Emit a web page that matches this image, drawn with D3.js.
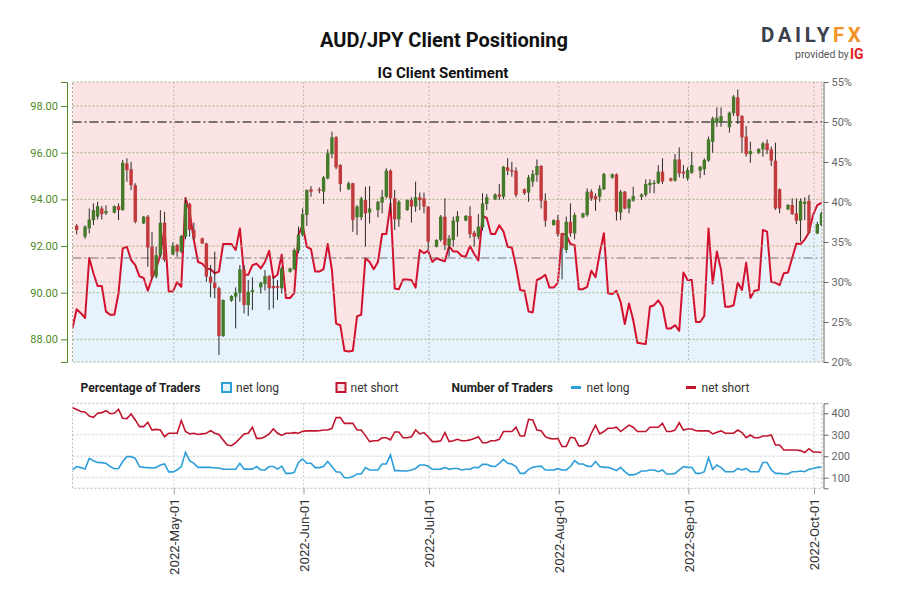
<!DOCTYPE html>
<html>
<head>
<meta charset="utf-8">
<script src="https://cdn.jsdelivr.net/npm/d3@7"></script>
<style>
body { margin: 0; background: #fff; }
svg text { font-family: Roboto, "Liberation Sans", sans-serif; }
</style>
</head>
<body>
<svg id="chart" width="900" height="600"></svg>
<script>
// Daily candles: date, open, high, low, close
const candles = [
	["2022-04-08", 92.87, 92.94, 92.50, 92.69], ["2022-04-10", 92.40, 92.89, 92.31, 92.83],
	["2022-04-11", 92.76, 93.61, 92.54, 93.14], ["2022-04-12", 93.11, 93.83, 92.90, 93.54],
	["2022-04-13", 93.26, 93.89, 93.14, 93.71], ["2022-04-14", 93.61, 93.71, 93.14, 93.37],
	["2022-04-15", 93.40, 93.74, 93.33, 93.50], ["2022-04-17", 93.43, 93.74, 93.40, 93.71],
	["2022-04-18", 93.71, 93.83, 93.11, 93.54], ["2022-04-19", 93.54, 95.69, 93.51, 95.57],
	["2022-04-20", 95.54, 95.76, 94.76, 95.26], ["2022-04-21", 95.29, 95.61, 94.40, 94.61],
	["2022-04-22", 94.61, 94.69, 92.97, 93.04], ["2022-04-24", 92.97, 93.29, 92.94, 93.26],
	["2022-04-25", 93.26, 93.33, 91.11, 91.94], ["2022-04-26", 91.97, 92.61, 90.61, 90.69],
	["2022-04-27", 90.69, 91.97, 90.61, 91.61], ["2022-04-28", 91.61, 93.54, 91.54, 93.00],
	["2022-04-29", 93.00, 93.47, 91.33, 91.40], ["2022-05-01", 91.64, 92.16, 91.61, 92.01],
	["2022-05-02", 92.04, 92.09, 91.54, 91.76], ["2022-05-03", 91.76, 92.47, 91.69, 92.43],
	["2022-05-04", 92.40, 94.04, 92.29, 93.83], ["2022-05-05", 93.80, 93.86, 92.40, 92.69],
	["2022-05-06", 92.69, 93.00, 92.26, 92.33], ["2022-05-08", 92.33, 92.36, 92.09, 92.11],
	["2022-05-09", 92.11, 92.14, 90.47, 90.69], ["2022-05-10", 90.69, 91.19, 89.80, 90.43],
	["2022-05-11", 90.43, 91.76, 89.76, 90.19], ["2022-05-12", 90.19, 90.26, 87.33, 88.14],
	["2022-05-13", 88.14, 89.71, 88.11, 89.69], ["2022-05-15", 89.66, 89.89, 89.61, 89.86],
	["2022-05-16", 89.83, 90.23, 88.47, 90.00], ["2022-05-17", 90.00, 91.19, 89.61, 91.00],
	["2022-05-18", 91.00, 91.19, 89.11, 89.47], ["2022-05-19", 89.47, 90.54, 89.01, 90.04],
	["2022-05-20", 90.03, 90.66, 89.26, 90.11], ["2022-05-22", 90.23, 90.47, 89.97, 90.43],
	["2022-05-23", 90.37, 90.97, 90.09, 90.71], ["2022-05-24", 90.71, 90.76, 89.26, 90.19],
	["2022-05-25", 90.29, 90.69, 89.33, 90.19], ["2022-05-26", 90.29, 90.54, 89.69, 90.21],
	["2022-05-27", 90.19, 91.11, 89.97, 91.04], ["2022-05-29", 90.90, 91.07, 90.86, 91.04],
	["2022-05-30", 91.00, 91.90, 90.97, 91.83], ["2022-05-31", 91.80, 92.83, 91.69, 92.47],
	["2022-06-01", 92.47, 93.61, 92.40, 93.37], ["2022-06-02", 93.33, 94.43, 92.86, 94.40],
	["2022-06-03", 94.43, 94.57, 94.11, 94.33], ["2022-06-05", 94.43, 94.51, 94.26, 94.37],
	["2022-06-06", 94.33, 95.00, 93.80, 94.94], ["2022-06-07", 94.90, 96.14, 94.86, 95.97],
	["2022-06-08", 95.94, 96.90, 95.76, 96.66], ["2022-06-09", 96.66, 96.71, 95.29, 95.37],
	["2022-06-10", 95.47, 95.51, 94.33, 94.66], ["2022-06-12", 94.43, 94.76, 94.40, 94.69],
	["2022-06-13", 94.69, 94.71, 92.61, 93.11], ["2022-06-14", 93.23, 93.76, 92.47, 93.69],
	["2022-06-15", 93.23, 94.11, 93.11, 94.04], ["2022-06-16", 93.97, 94.54, 91.97, 93.40],
	["2022-06-17", 93.43, 94.57, 92.97, 93.61], ["2022-06-19", 93.54, 93.94, 93.23, 93.90],
	["2022-06-20", 93.86, 94.40, 93.40, 94.11], ["2022-06-21", 94.11, 95.33, 94.04, 95.23],
	["2022-06-22", 95.23, 95.29, 93.40, 94.04], ["2022-06-23", 94.04, 94.40, 92.69, 93.14],
	["2022-06-24", 93.14, 93.97, 92.83, 93.90], ["2022-06-26", 93.54, 94.00, 93.51, 93.97],
	["2022-06-27", 93.97, 94.09, 93.00, 93.69], ["2022-06-28", 93.69, 94.76, 93.47, 94.09],
	["2022-06-29", 94.09, 94.29, 93.54, 93.97], ["2022-06-30", 94.04, 94.29, 93.40, 93.69],
	["2022-07-01", 93.69, 93.71, 91.83, 92.19], ["2022-07-03", 91.97, 92.29, 91.94, 92.26],
	["2022-07-04", 92.26, 93.33, 92.19, 93.26], ["2022-07-05", 93.26, 94.04, 91.83, 92.04],
	["2022-07-06", 92.00, 92.47, 91.54, 92.33], ["2022-07-07", 92.26, 93.26, 91.97, 93.09],
	["2022-07-08", 93.04, 93.50, 92.40, 93.29], ["2022-07-10", 93.09, 93.33, 93.06, 93.29],
	["2022-07-11", 93.29, 93.71, 92.33, 92.51], ["2022-07-12", 92.57, 92.66, 91.97, 92.40],
	["2022-07-13", 92.40, 93.37, 92.29, 92.83], ["2022-07-14", 92.80, 94.26, 92.66, 93.83],
	["2022-07-15", 93.80, 94.23, 93.54, 94.09], ["2022-07-17", 94.00, 94.26, 93.97, 94.21],
	["2022-07-18", 94.21, 94.66, 93.97, 94.11], ["2022-07-19", 94.11, 95.43, 94.00, 95.40],
	["2022-07-20", 95.37, 95.76, 95.04, 95.23], ["2022-07-21", 95.26, 95.61, 94.97, 95.19],
	["2022-07-22", 95.23, 95.37, 94.09, 94.19], ["2022-07-24", 94.43, 94.47, 94.19, 94.26],
	["2022-07-25", 94.29, 95.04, 93.90, 94.94], ["2022-07-26", 94.76, 95.26, 94.54, 95.09],
	["2022-07-27", 95.04, 95.71, 94.76, 95.43], ["2022-07-28", 95.43, 95.47, 93.61, 93.94],
	["2022-07-29", 93.94, 94.26, 92.83, 93.09], ["2022-07-31", 92.90, 93.14, 92.87, 93.11],
	["2022-08-01", 93.11, 93.33, 92.40, 92.51], ["2022-08-02", 92.54, 92.57, 90.57, 91.90],
	["2022-08-03", 91.83, 93.26, 91.71, 93.04], ["2022-08-04", 93.04, 93.83, 92.40, 92.54],
	["2022-08-05", 92.54, 93.43, 92.29, 93.33], ["2022-08-07", 93.23, 93.43, 93.19, 93.40],
	["2022-08-08", 93.33, 94.47, 93.26, 94.33], ["2022-08-09", 94.33, 94.43, 93.94, 94.04],
	["2022-08-10", 94.14, 94.26, 93.51, 94.00], ["2022-08-11", 94.11, 94.61, 93.90, 94.47],
	["2022-08-12", 94.43, 95.14, 94.40, 95.09], ["2022-08-14", 94.93, 95.11, 94.89, 95.07],
	["2022-08-15", 95.07, 95.11, 93.09, 93.47], ["2022-08-16", 93.43, 94.40, 93.11, 94.33],
	["2022-08-17", 94.33, 94.36, 93.57, 93.61], ["2022-08-18", 93.61, 94.04, 93.40, 94.00],
	["2022-08-19", 93.94, 94.54, 93.90, 94.14], ["2022-08-21", 94.11, 94.26, 93.97, 94.21],
	["2022-08-22", 94.19, 94.86, 94.11, 94.66], ["2022-08-23", 94.61, 94.86, 94.26, 94.71],
	["2022-08-24", 94.66, 94.83, 94.26, 94.71], ["2022-08-25", 94.69, 95.47, 94.66, 95.19],
	["2022-08-26", 95.19, 95.76, 94.66, 94.76], ["2022-08-28", 94.90, 94.94, 94.76, 94.80],
	["2022-08-29", 94.80, 95.94, 94.76, 95.71], ["2022-08-30", 95.71, 96.23, 94.94, 95.11],
	["2022-08-31", 95.19, 95.47, 94.90, 95.11], ["2022-09-01", 94.90, 95.37, 94.80, 95.26],
	["2022-09-02", 95.14, 96.04, 95.09, 95.47], ["2022-09-04", 95.23, 95.43, 94.90, 95.40],
	["2022-09-05", 95.29, 95.76, 95.04, 95.69], ["2022-09-06", 95.66, 96.69, 95.61, 96.57],
	["2022-09-07", 96.47, 97.54, 96.00, 97.47], ["2022-09-08", 97.29, 97.94, 97.11, 97.50],
	["2022-09-09", 97.29, 97.94, 97.11, 97.57], ["2022-09-11", 97.09, 97.76, 96.86, 97.71],
	["2022-09-12", 97.69, 98.47, 97.57, 98.40], ["2022-09-13", 98.37, 98.71, 97.23, 97.57],
	["2022-09-14", 97.57, 97.61, 96.00, 96.66], ["2022-09-15", 96.69, 97.14, 95.83, 95.94],
	["2022-09-16", 95.94, 96.47, 95.57, 96.07], ["2022-09-18", 96.00, 96.19, 95.94, 96.16],
	["2022-09-19", 96.14, 96.47, 95.83, 96.40], ["2022-09-20", 96.40, 96.57, 95.94, 96.11],
	["2022-09-21", 96.14, 96.26, 95.43, 95.66], ["2022-09-22", 95.66, 96.43, 93.55, 93.61],
	["2022-09-23", 94.43, 94.47, 93.40, 93.61], ["2022-09-25", 93.57, 93.80, 93.54, 93.76],
	["2022-09-26", 93.76, 94.04, 93.33, 93.37], ["2022-09-27", 93.40, 94.04, 92.94, 93.09],
	["2022-09-28", 93.09, 94.04, 92.19, 93.94], ["2022-09-29", 93.80, 94.09, 93.11, 93.90],
	["2022-09-30", 93.94, 94.19, 92.54, 92.57], ["2022-10-02", 92.54, 93.04, 92.51, 92.94],
	["2022-10-03", 92.90, 93.47, 92.86, 93.40]
];

// Daily series, one value per calendar day from seriesStart
const seriesStart = "2022-04-07";
// % of traders net long
const longPct = [
	24.2, 26.6, 26.1, 25.5, 33.0, 31.1, 29.5, 29.5, 26.3, 25.9, 25.9, 28.6, 34.2, 34.4, 32.75, 32.1, 30.7, 30.5, 28.9, 30.5, 31.7, 33.4, 36.7, 28.8,
	28.8, 30.0, 29.4, 40.5, 38.8, 35.25, 32.5, 32.3, 31.7, 31.6, 31.1, 31.3, 34.75, 34.75, 34.75, 34.0, 36.7, 30.9, 30.9, 32.1, 32.3, 31.7, 32.5, 33.9, 30.5, 30.9, 33.4, 28.0, 28.0, 28.6, 35.9,
	37.1, 34.4, 34.1, 31.3, 31.3, 31.6, 34.75, 31.5, 24.8, 24.6, 21.4, 21.3, 21.4, 25.7, 25.9, 33.0, 32.5, 31.6, 32.5, 36.0, 36.0, 39.8, 29.2, 29.1, 30.3, 30.3, 30.25, 29.3, 34.0, 33.6,
	33.9, 32.5, 33.0, 32.75, 32.6, 34.5, 33.8, 33.8, 33.25, 33.2, 34.5, 33.5, 32.7, 38.25, 38.0, 36.0, 36.0, 37.1, 36.3, 34.4, 34.3, 31.9, 29.0, 28.9, 26.3, 26.2, 30.25, 30.5, 30.9, 29.3, 29.3,
	29.9, 36.0, 35.9, 34.75, 34.6, 29.1, 29.1, 29.4, 31.4, 30.6, 33.6, 36.1, 28.6, 28.5, 28.9, 27.5, 24.75, 27.3, 25.25, 22.4, 22.3, 22.25, 26.9, 27.1, 27.7, 26.9, 24.2, 24.2, 24.6, 23.9, 31.2,
	30.25, 30.25, 25.0, 25.0, 25.75, 36.7, 29.8, 33.8, 31.5, 26.9, 26.9, 27.1, 29.9, 29.0, 32.4, 28.0, 28.9, 29.0, 36.5, 36.3, 30.0, 29.9, 29.6, 31.1, 31.2, 33.0, 34.8, 34.75, 35.3, 36.2,
	38.4, 39.6, 39.9
];
// Number of traders net short
const shortCount = [
	426, 418, 408, 406, 387, 381, 400, 403, 412, 398, 400, 418, 377, 375, 397, 369, 338, 338, 358, 322, 325, 322, 291, 307,
	307, 307, 366, 315, 304, 307, 301, 304, 307, 319, 307, 301, 276, 252, 249, 263, 283, 304, 307, 335, 283, 283, 291, 304, 327, 307, 297, 307, 307, 310, 307,
	316, 318, 318, 318, 319, 322, 322, 330, 380, 380, 353, 353, 353, 322, 322, 296, 268, 272, 272, 286, 286, 276, 313, 313, 286, 286, 291, 322, 304, 310,
	291, 268, 268, 272, 310, 268, 272, 279, 272, 272, 276, 283, 291, 263, 263, 272, 272, 279, 315, 315, 315, 335, 294, 294, 372, 369, 322, 319, 291, 283, 280,
	283, 245, 245, 288, 285, 248, 248, 260, 307, 344, 304, 315, 330, 330, 335, 315, 330, 345, 335, 315, 315, 315, 335, 335, 335, 353, 315, 315, 322, 356, 322,
	327, 327, 319, 318, 318, 318, 304, 312, 318, 307, 307, 307, 322, 310, 286, 299, 286, 286, 294, 294, 299, 252, 252, 229, 229, 229, 229, 226, 217, 235,
	220, 220, 217
];
// Number of traders net long
const longCount = [
	136, 152, 147, 140, 190, 179, 171, 170, 167, 152, 142, 143, 175, 198, 198, 190, 152, 148, 147, 145, 148, 159, 164, 127,
	127, 136, 152, 218, 179, 167, 148, 148, 148, 148, 145, 145, 139, 139, 139, 140, 167, 140, 140, 140, 152, 136, 136, 152, 152, 140, 154, 120, 120, 125, 171,
	187, 167, 167, 147, 147, 152, 175, 152, 128, 125, 100, 100, 105, 117, 117, 147, 136, 136, 136, 164, 164, 206, 133, 133, 131, 131, 136, 143, 159, 159,
	154, 139, 139, 140, 148, 139, 143, 143, 136, 139, 139, 148, 147, 162, 162, 154, 152, 167, 185, 167, 164, 152, 120, 120, 139, 148, 152, 154, 136, 136, 136,
	142, 136, 136, 152, 179, 164, 164, 154, 152, 175, 152, 148, 148, 142, 133, 148, 128, 113, 113, 120, 131, 131, 136, 136, 128, 136, 117, 117, 120, 136, 152,
	148, 148, 120, 120, 128, 193, 139, 159, 147, 128, 128, 128, 143, 136, 143, 128, 128, 128, 171, 171, 136, 120, 120, 117, 117, 128, 128, 131, 128, 139,
	143, 148, 148
];

const priceTicks = [88, 90, 92, 94, 96, 98];
const pctTicks = [20, 25, 30, 35, 40, 45, 50, 55];
const countTicks = [100, 200, 300, 400];
const monthTicks = ["2022-05-01", "2022-06-01", "2022-07-01", "2022-08-01", "2022-09-01", "2022-10-01"];
const refLines = [50, 33];

const parse = d3.timeParse("%Y-%m-%d");
// candles sit at the session open, a few hours before the calendar day
const at = d => d3.timeHour.offset(d, -5);

const svg = d3.select("#chart");
const left = 72.5, right = 822;
const top1 = 82, bot1 = 362, top2 = 403.3, bot2 = 488.3;

const start = parse(seriesStart);
const days = longPct.map((d, i) => at(d3.timeDay.offset(start, i)));

const x = d3.scaleTime()
	.domain([at(start), d3.timeHour.offset(at(parse("2022-10-03")), 3)])
	.range([left, right]);
const yPrice = d3.scaleLinear().domain([87.03, 99.03]).range([bot1, top1]);
const yPct = d3.scaleLinear().domain([20, 55]).range([bot1, top1]);
const yNum = d3.scaleLinear().domain([50.6, 446.5]).range([bot2, top2]);

const defs = svg.append("defs");
defs.append("clipPath").attr("id", "clip1").append("rect")
	.attr("x", left).attr("y", top1).attr("width", right - left).attr("height", bot1 - top1);
defs.append("clipPath").attr("id", "clip2").append("rect")
	.attr("x", left).attr("y", top2).attr("width", right - left).attr("height", bot2 - top2);

// Titles
svg.append("text").attr("x", 444).attr("y", 47).attr("text-anchor", "middle")
	.attr("font-size", 20).attr("font-weight", "bold").attr("fill", "#111")
	.text("AUD/JPY Client Positioning");
svg.append("text").attr("x", 443).attr("y", 78).attr("text-anchor", "middle")
	.attr("font-size", 15).attr("font-weight", "bold").attr("fill", "#111")
	.text("IG Client Sentiment");

// Logo
let logo = svg.append("text").attr("x", 761).attr("y", 42)
	.attr("font-size", 20.5).attr("font-weight", "bold").attr("letter-spacing", 3.6);
logo.append("tspan").attr("fill", "#3b404c").text("DAILY");
logo.append("tspan").attr("fill", "#f39325").text("FX");
svg.append("text").attr("x", 795).attr("y", 58).attr("font-size", 10.5)
	.attr("fill", "#555").text("provided by");
svg.append("text").attr("x", 850).attr("y", 59).attr("font-size", 14)
	.attr("font-weight", "bold").attr("fill", "#e2231a").text("IG");

// Main panel background
const g1 = svg.append("g").attr("clip-path", "url(#clip1)");
g1.append("rect").attr("x", left).attr("y", top1).attr("width", right - left)
	.attr("height", bot1 - top1).attr("fill", "#fde4e4");
g1.append("path").datum(longPct)
	.attr("fill", "#e6f3fc")
	.attr("d", d3.area().x((d, i) => x(days[i])).y0(bot1).y1(d => yPct(d)));

// Grid
const grid = svg.append("g");
grid.selectAll(".hp").data(priceTicks).join("line")
	.attr("x1", left).attr("x2", right)
	.attr("y1", d => yPrice(d)).attr("y2", d => yPrice(d))
	.attr("stroke", "#a3b57f").attr("stroke-dasharray", "2,2");
grid.append("line").attr("x1", left).attr("x2", right)
	.attr("y1", yPct(30)).attr("y2", yPct(30))
	.attr("stroke", "#b8b0b0").attr("stroke-dasharray", "2,2");
grid.selectAll(".vm").data(monthTicks).join("line")
	.attr("x1", d => x(parse(d))).attr("x2", d => x(parse(d)))
	.attr("y1", top1).attr("y2", bot1)
	.attr("stroke", "#bbb").attr("stroke-dasharray", "2,2");
grid.selectAll(".vb").data(monthTicks).join("line")
	.attr("x1", d => x(parse(d))).attr("x2", d => x(parse(d)))
	.attr("y1", top2).attr("y2", bot2)
	.attr("stroke", "#ccc").attr("stroke-dasharray", "2,2");
grid.selectAll(".hb").data(countTicks).join("line")
	.attr("x1", left).attr("x2", right)
	.attr("y1", d => yNum(d)).attr("y2", d => yNum(d))
	.attr("stroke", "#ccc").attr("stroke-dasharray", "2,2");
// panel borders
[[top1, bot1, "#a8a890"], [top2, bot2, "#bbb"]].forEach(([t, b, c]) => {
	svg.append("rect").attr("x", left).attr("y", t).attr("width", right - left)
		.attr("height", b - t).attr("fill", "none").attr("stroke", c)
		.attr("stroke-dasharray", "2,2");
});

// Reference lines
svg.selectAll(".ref").data(refLines).join("line")
	.attr("x1", left).attr("x2", right)
	.attr("y1", d => yPct(d)).attr("y2", d => yPct(d))
	.attr("stroke", "#7a7070").attr("stroke-width", (d, i) => i ? 1.2 : 1.8)
	.attr("stroke-dasharray", "9,3,2,3");

// Sentiment line
g1.append("path").datum(longPct)
	.attr("fill", "none").attr("stroke", "#d3112e").attr("stroke-width", 2)
	.attr("stroke-linejoin", "round")
	.attr("d", d3.line().x((d, i) => x(days[i])).y(d => yPct(d)));

// Candles
const cg = svg.append("g").attr("clip-path", "url(#clip1)")
	.selectAll("g").data(candles).join("g")
	.attr("transform", d => `translate(${x(at(parse(d[0])))},0)`);
cg.append("line")
	.attr("y1", d => yPrice(d[2])).attr("y2", d => yPrice(d[3]))
	.attr("stroke", "#2a2a2a").attr("stroke-width", 1);
cg.append("rect")
	.attr("x", -1.7).attr("width", 3.4)
	.attr("y", d => yPrice(Math.max(d[1], d[4])))
	.attr("height", d => Math.max(1, Math.abs(yPrice(d[1]) - yPrice(d[4]))))
	.attr("fill", d => d[4] >= d[1] ? "#457a2b" : "#c2393c");

// Bottom panel lines
const g2 = svg.append("g").attr("clip-path", "url(#clip2)");
const numLine = d3.line().x((d, i) => x(days[i])).y(d => yNum(d));
g2.append("path").datum(shortCount).attr("fill", "none")
	.attr("stroke", "#c0142f").attr("stroke-width", 1.6).attr("d", numLine);
g2.append("path").datum(longCount).attr("fill", "none")
	.attr("stroke", "#2c9fd9").attr("stroke-width", 1.6).attr("d", numLine);

// Axes
function styleAxis(g, color, size) {
	g.selectAll("path, line").attr("stroke", color);
	g.selectAll("text").attr("fill", color).attr("font-size", size)
		.attr("font-family", "Roboto, sans-serif");
}
svg.append("g").attr("transform", "translate(67,0)")
	.call(d3.axisLeft(yPrice).tickValues(priceTicks).tickFormat(d3.format(".2f")).tickSize(6))
	.call(g => styleAxis(g, "#4f8a26", 11));
svg.append("g").attr("transform", `translate(${right + 1.5},0)`)
	.call(d3.axisRight(yPct).tickValues(pctTicks).tickFormat(d => d + "%").tickSize(5))
	.call(g => styleAxis(g, "#666", 11));
svg.append("g").attr("transform", `translate(${right + 1.5},0)`)
	.call(d3.axisRight(yNum).tickValues(countTicks).tickSize(5))
	.call(g => styleAxis(g, "#666", 11));

const xa = svg.append("g").attr("transform", `translate(0,${bot2})`)
	.call(d3.axisBottom(x).tickValues(monthTicks.map(parse))
		.tickFormat(d3.timeFormat("%Y-%b-%d")).tickSize(6));
xa.select(".domain").remove();
xa.selectAll("line").attr("stroke", "#999");
xa.selectAll("text")
	.attr("transform", "rotate(-90)")
	.attr("x", -10).attr("y", 0).attr("dy", "0.35em")
	.attr("text-anchor", "end")
	.attr("fill", "#333").attr("font-size", 13.2)
	.attr("font-family", "'Liberation Sans', Arial, sans-serif");

// Legend
const lg = svg.append("g").attr("font-size", 12).attr("fill", "#222");
const ly = 391.5;
lg.append("text").attr("x", 80.5).attr("y", ly).attr("font-weight", "bold").text("Percentage of Traders");
lg.append("text").attr("x", 451.5).attr("y", ly).attr("font-weight", "bold").text("Number of Traders");
const boxes = [
	{x: 222, stroke: "#2c9fd9", fill: "#e6f3fc", label: "net long"},
	{x: 336.5, stroke: "#c0142f", fill: "#fde4e4", label: "net short"}
];
boxes.forEach(b => {
	lg.append("rect").attr("x", b.x).attr("y", 383).attr("width", 9).attr("height", 9)
		.attr("fill", b.fill).attr("stroke", b.stroke).attr("stroke-width", 2);
	lg.append("text").attr("x", b.x + 14).attr("y", ly).attr("fill", "#333").text(b.label);
});
const dashes = [
	{x: 571, stroke: "#2c9fd9", label: "net long"},
	{x: 686, stroke: "#c0142f", label: "net short"}
];
dashes.forEach(b => {
	lg.append("line").attr("x1", b.x).attr("x2", b.x + 10).attr("y1", 387.5).attr("y2", 387.5)
		.attr("stroke", b.stroke).attr("stroke-width", 3);
	lg.append("text").attr("x", b.x + 15.5).attr("y", ly).attr("fill", "#333").text(b.label);
});
</script>
</body>
</html>
